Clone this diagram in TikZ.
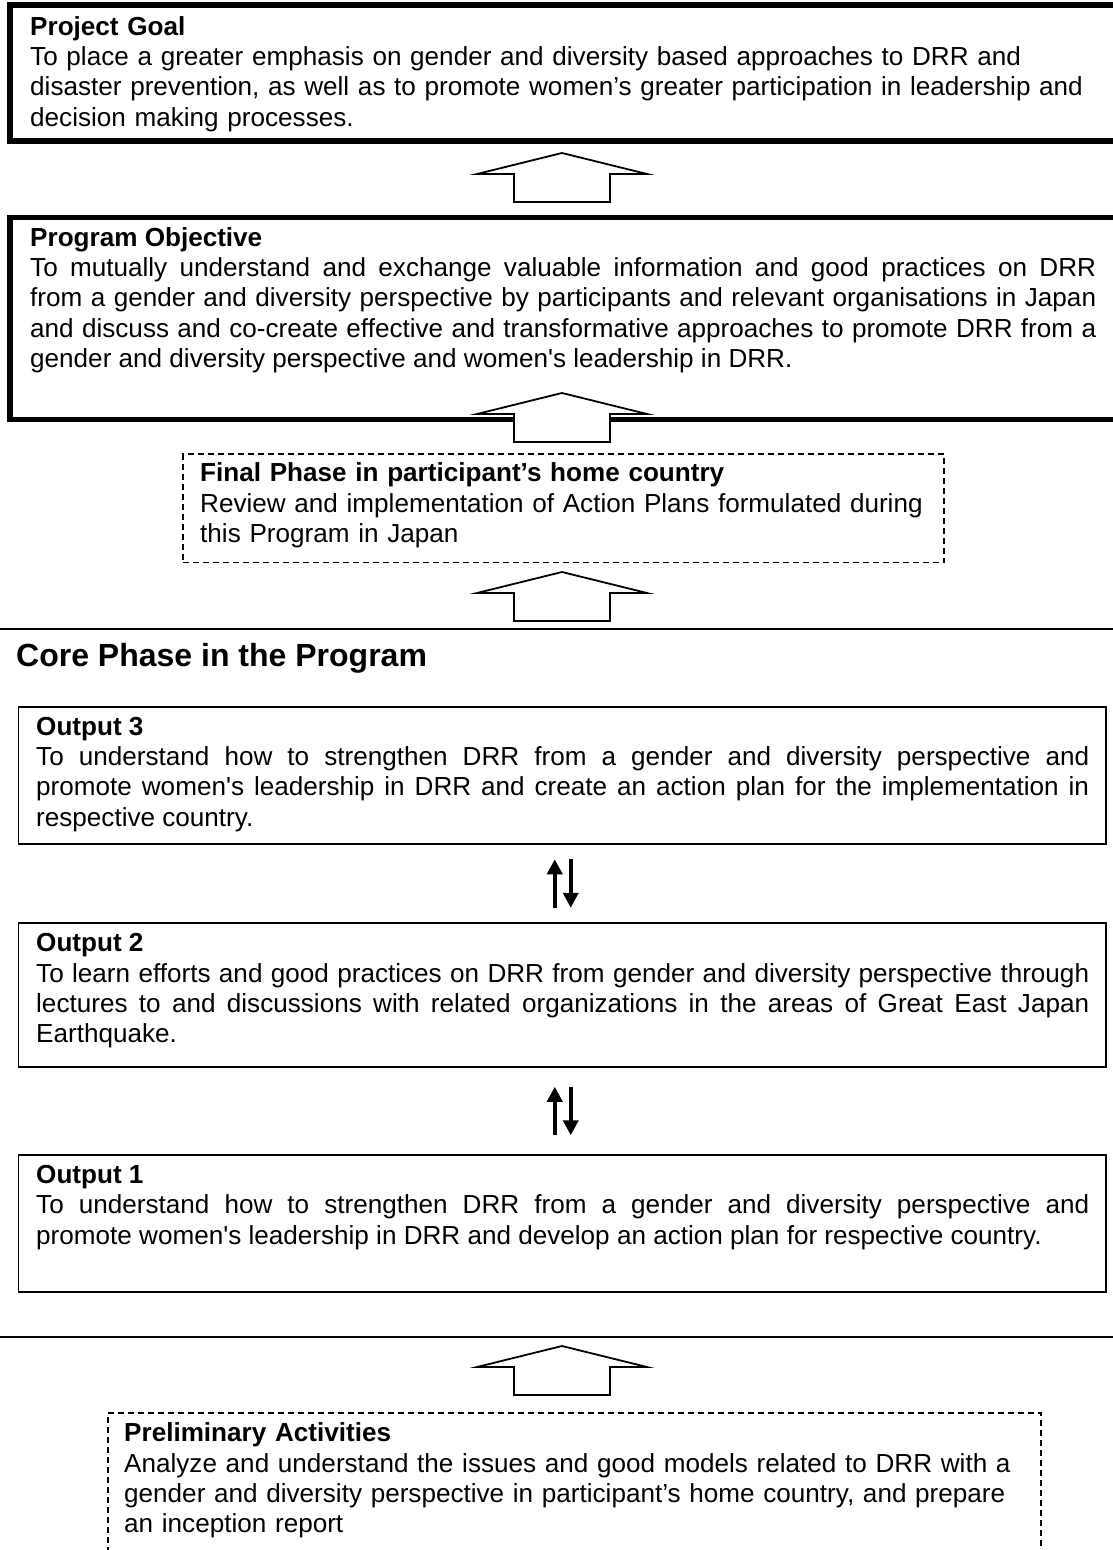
\documentclass[tikz,border=0pt]{standalone}
\usepackage{fontspec}
\setmainfont{Liberation Sans}
\usetikzlibrary{arrows.meta,calc}
\newcommand{\sqt}{\textquotesingle}

\begin{document}
\begin{tikzpicture}[x=1pt,y=-1pt,
    goal/.style={draw,line width=5.5pt,rectangle,anchor=north west,outer sep=0pt,inner sep=0pt},
    outbox/.style={draw,line width=1.8pt,rectangle,anchor=north west,outer sep=0pt,inner sep=0pt},
    phase/.style={draw,line width=1.4pt,dash pattern=on 6pt off 4pt,rectangle,anchor=north west,outer sep=0pt,inner sep=0pt},
    body/.style={anchor=base west,inner sep=0pt,text width=#1,font=\fontsize{26.1}{30.4}\selectfont},
    dbl/.style={line width=3.7pt,-{Triangle[length=15pt,width=15pt]}},
    rule/.style={line width=2pt},
    bigup/.pic={\draw[line width=1.8pt,fill=white] (0,0) -- (85,21) -- (48,21) -- (48,49)
        -- (-48,49) -- (-48,21) -- (-85,21) -- cycle;}]
    \useasboundingbox (0,0) rectangle (1113,1550);
    \fill[white] (0,0) rectangle (1113,1550);

    % goal and objective
    \node[goal,minimum width=1200pt,minimum height=136pt] (pg) at (10,5) {};
    \node[body=1080pt,align=left] (pgt) at (30,35) {\textbf{Project Goal}\\
        To place a greater emphasis on gender and diversity based approaches to DRR and\\
        disaster prevention, as well as to promote women’s greater participation in leadership and\\
        decision making processes.};
    \node[goal,minimum width=1200pt,minimum height=202pt] (po) at (10,217.5) {};
    \node[body=1066pt,align=justify] (pot) at (30,246) {\textbf{Program Objective}\\
        To mutually understand and exchange valuable information and good practices on DRR\linebreak
        from a gender and diversity perspective by participants and relevant organisations in Japan\linebreak
        and discuss and co-create effective and transformative approaches to promote DRR from a\linebreak
        gender and diversity perspective and women\sqt s leadership in DRR.};

    % final phase
    \node[phase,minimum width=761pt,minimum height=108.5pt] (fp) at (183,454) {};
    \node[body=800pt,align=left] (fpt) at (200,481.7) {\textbf{Final Phase in participant’s home country}\\
        Review and implementation of Action Plans formulated during\\
        this Program in Japan};

    \draw[rule] (0,628.5) -- (1113,628.5);
    \draw[rule] (0,1337) -- (1113,1337);
    \node[anchor=base west,inner sep=0pt,font=\bfseries\fontsize{32}{38}\selectfont] (core) at (16,666)
        {Core Phase in the Program};

    % outputs
    \node[outbox,minimum width=1087.5pt,minimum height=137pt] (o3) at (18.5,707) {};
    \node[body=1053pt,align=justify] (o3t) at (36,735) {\textbf{Output 3}\\
        To understand how to strengthen DRR from a gender and diversity perspective and\linebreak
        promote women\sqt s leadership in DRR and create an action plan for the implementation in\linebreak
        respective country.};
    \node[outbox,minimum width=1087.5pt,minimum height=144pt] (o2) at (18.5,923) {};
    \node[body=1053pt,align=justify] (o2t) at (36,951.7) {\textbf{Output 2}\\
        To learn efforts and good practices on DRR from gender and diversity perspective through\linebreak
        lectures to and discussions with related organizations in the areas of Great East Japan\linebreak
        Earthquake.};
    \node[outbox,minimum width=1087.5pt,minimum height=137pt] (o1) at (18.5,1155) {};
    \node[body=1053pt,align=justify] (o1t) at (36,1183.3) {\textbf{Output 1}\\
        To understand how to strengthen DRR from a gender and diversity perspective and\linebreak
        promote women\sqt s leadership in DRR and develop an action plan for respective country.};

    % preliminary
    \node[phase,minimum width=933pt,minimum height=160pt] (pa) at (108,1413) {};
    \node[body=900pt,align=left] (pat) at (124,1441.7) {\textbf{Preliminary Activities}\\
        Analyze and understand the issues and good models related to DRR with a\\
        gender and diversity perspective in participant’s home country, and prepare\\
        an inception report};

    \foreach \a/\b in {o2/o3,o1/o2}{
        \coordinate (m) at ($(\b.south)!.5!(\a.north)$);
        \draw[dbl] ([xshift=-7.5pt,yshift=-24.25pt]m) -- ([xshift=-7.5pt,yshift=24.25pt]m);
        \draw[dbl] ([xshift=8.5pt,yshift=24.25pt]m) -- ([xshift=8.5pt,yshift=-24.25pt]m);
        };
    \foreach \t in {153,393,572,1346}{
        \pic at (562,\t) {bigup};
        };
\end{tikzpicture}
\end{document}
